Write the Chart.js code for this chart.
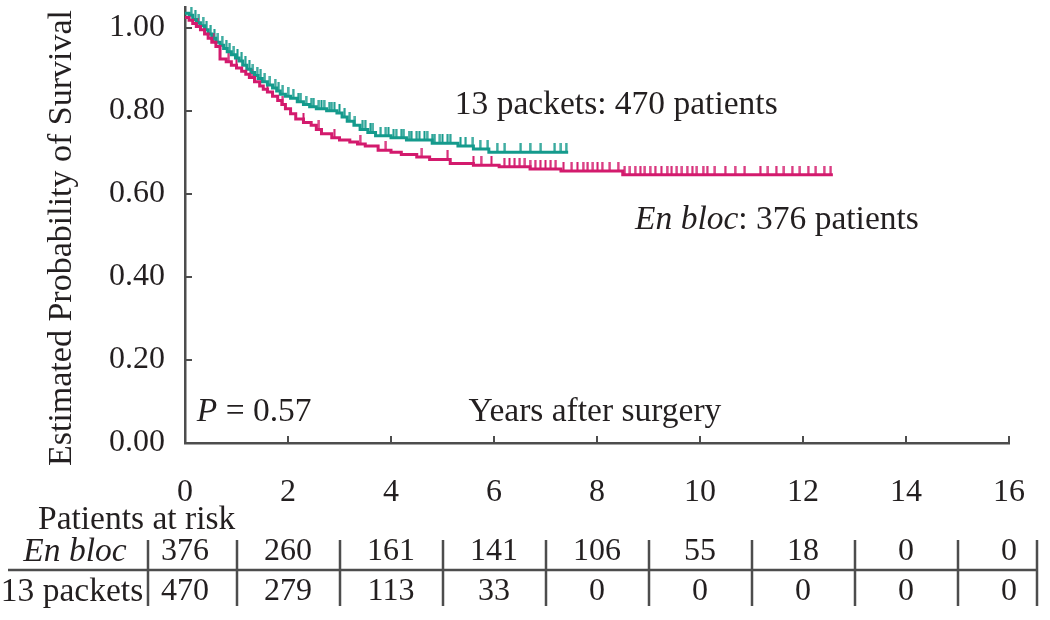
<!DOCTYPE html>
<html>
<head>
<meta charset="utf-8">
<script src="https://cdn.jsdelivr.net/npm/chart.js@4.4.1/dist/chart.umd.min.js"></script>
<style>
  html, body { margin: 0; padding: 0; background: #fff; }
</style>
</head>
<body>
<canvas id="km" width="1050" height="620"></canvas>
<script>
// Kaplan-Meier steps (years, survival estimate)
const packetsTimes = [0, 0.08, 0.15, 0.22, 0.3, 0.38, 0.45, 0.52, 0.6, 0.68, 0.75, 0.82, 0.9, 0.98, 1.05, 1.12, 1.2, 1.28, 1.35, 1.42, 1.5, 1.6, 1.7, 1.78, 1.85, 1.95, 2.05, 2.18, 2.3, 2.42, 2.55, 2.75, 2.95, 3.05, 3.15, 3.28, 3.4, 3.55, 3.7, 4.0, 4.3, 4.8, 5.3, 5.6, 5.9, 7.44];
const packetsSurv  = [1.035, 1.03, 1.02, 1.012, 1.005, 0.995, 0.985, 0.975, 0.965, 0.958, 0.95, 0.942, 0.935, 0.927, 0.92, 0.91, 0.9, 0.892, 0.885, 0.878, 0.87, 0.862, 0.855, 0.848, 0.84, 0.835, 0.83, 0.822, 0.815, 0.81, 0.805, 0.8, 0.795, 0.785, 0.775, 0.765, 0.755, 0.748, 0.74, 0.735, 0.73, 0.722, 0.715, 0.708, 0.70, 0.70];

const enBlocTimes = [0, 0.08, 0.15, 0.22, 0.3, 0.38, 0.45, 0.52, 0.6, 0.68, 0.8, 0.9, 1.0, 1.1, 1.18, 1.25, 1.35, 1.45, 1.52, 1.6, 1.7, 1.8, 1.88, 1.95, 2.05, 2.15, 2.3, 2.45, 2.55, 2.65, 2.85, 3.0, 3.2, 3.35, 3.5, 3.75, 4.0, 4.2, 4.5, 4.75, 5.15, 5.6, 6.1, 6.7, 7.3, 8.5, 12.58];
const enBlocSurv  = [1.025, 1.018, 1.01, 1.003, 0.995, 0.985, 0.975, 0.965, 0.955, 0.925, 0.918, 0.91, 0.903, 0.895, 0.888, 0.88, 0.87, 0.86, 0.852, 0.845, 0.835, 0.825, 0.815, 0.805, 0.793, 0.78, 0.772, 0.765, 0.755, 0.745, 0.735, 0.73, 0.725, 0.72, 0.715, 0.705, 0.7, 0.695, 0.689, 0.683, 0.673, 0.669, 0.665, 0.66, 0.655, 0.646, 0.646];

// censored observations (years)
const packetsCensor = [0.12, 0.2, 0.27, 0.35, 0.42, 0.5, 0.57, 0.64, 0.72, 0.8, 0.87, 0.95, 1.02, 1.1, 1.17, 1.25, 1.32, 1.4, 1.47, 1.55, 1.65, 1.75, 1.82, 1.9, 2.0, 2.1, 2.2, 2.25, 2.35, 2.45, 2.5, 2.6, 2.65, 2.7, 2.8, 2.85, 2.9, 3.0, 3.1, 3.2, 3.3, 3.45, 3.5, 3.6, 3.65, 3.8, 3.9, 3.95, 4.05, 4.1, 4.2, 4.25, 4.35, 4.4, 4.5, 4.55, 4.65, 4.7, 4.8, 4.85, 4.95, 5.0, 5.1, 5.15, 5.35, 5.45, 5.59, 5.73, 5.88, 6.06, 6.21, 6.52, 6.7, 6.91, 7.18, 7.3, 7.4];
const enBlocCensor = [0.25, 0.55, 0.85, 1.0, 1.3, 1.6, 1.9, 2.3, 2.6, 2.9, 3.4, 3.9, 4.6, 5.1, 5.6, 5.75, 5.95, 6.2, 6.3, 6.4, 6.5, 6.6, 6.7, 6.8, 6.9, 7.0, 7.1, 7.2, 7.35, 7.51, 7.62, 7.73, 7.82, 7.92, 8.01, 8.1, 8.25, 8.41, 8.54, 8.64, 8.74, 8.84, 8.93, 9.03, 9.13, 9.25, 9.36, 9.45, 9.55, 9.65, 9.75, 9.85, 9.94, 10.06, 10.14, 10.29, 10.49, 10.68, 10.87, 11.17, 11.32, 11.48, 11.63, 11.79, 11.94, 12.1, 12.25, 12.41, 12.54];

const xTicks = [0, 2, 4, 6, 8, 10, 12, 14, 16];
const yTicks = [0, 0.2, 0.4, 0.6, 0.8, 1.0];

// patients at risk table
const riskYears = [0, 2, 4, 6, 8, 10, 12, 14, 16];
const riskEnBloc = [376, 260, 161, 141, 106, 55, 18, 0, 0];
const riskPackets = [470, 279, 113, 33, 0, 0, 0, 0, 0];
const riskDividers = [-0.72, 1, 3, 5, 7, 9, 11, 13, 15, 16.55];

const TEAL = '#149a8c';
const MAGENTA = '#d31a6d';
const INK = '#231f20';
const AXIS = '#4d4d4d';
const SERIF = '"Liberation Serif", "DejaVu Serif", serif';
const WORDS = '33.5px ' + SERIF;

function survAt(times, surv, t) {
  let v = surv[0];
  for (let i = 0; i < times.length; i++) {
    if (times[i] <= t) v = surv[i];
  }
  return v;
}

function tickImage(color) {
  const c = document.createElement('canvas');
  c.width = 3;
  c.height = 18;
  const g = c.getContext('2d');
  g.fillStyle = color;
  g.fillRect(0.5, 0, 2, 9);
  return c;
}

const packetsLine = packetsTimes.map((t, i) => ({ x: t, y: packetsSurv[i] }));
const enBlocLine = enBlocTimes.map((t, i) => ({ x: t, y: enBlocSurv[i] }));
const packetsMarks = packetsCensor.map(t => ({ x: t, y: survAt(packetsTimes, packetsSurv, t) }));
const enBlocMarks = enBlocCensor.map(t => ({ x: t, y: survAt(enBlocTimes, enBlocSurv, t) }));

function mixedText(ctx, parts, x, y) {
  let cx = x;
  parts.forEach(p => {
    ctx.font = (p.italic ? 'italic ' : '') + WORDS;
    ctx.fillText(p.text, cx, y);
    cx += ctx.measureText(p.text).width;
  });
}

const decorations = {
  id: 'decorations',
  afterDraw(chart) {
    const ctx = chart.ctx;
    const xs = chart.scales.x;
    const ys = chart.scales.y;
    const area = chart.chartArea;
    ctx.save();

    // inward tick marks
    ctx.strokeStyle = AXIS;
    ctx.lineWidth = 2;
    ctx.beginPath();
    xTicks.forEach(t => {
      const px = Math.round(xs.getPixelForValue(t));
      ctx.moveTo(px, area.bottom);
      ctx.lineTo(px, area.bottom - 7);
    });
    yTicks.forEach(v => {
      const py = Math.round(ys.getPixelForValue(v));
      ctx.moveTo(area.left, py);
      ctx.lineTo(area.left + 7, py);
    });
    ctx.stroke();

    ctx.fillStyle = INK;
    ctx.textBaseline = 'middle';
    ctx.textAlign = 'left';

    // annotations in the plot
    mixedText(ctx, [{ text: '13 packets: 470 patients' }], xs.getPixelForValue(5.24), ys.getPixelForValue(0.814));
    mixedText(ctx, [{ text: 'En bloc', italic: true }, { text: ': 376 patients' }], xs.getPixelForValue(8.74), ys.getPixelForValue(0.537));
    mixedText(ctx, [{ text: 'P', italic: true }, { text: ' = 0.57' }], xs.getPixelForValue(0.23), ys.getPixelForValue(0.075));
    ctx.textAlign = 'center';
    ctx.font = WORDS;
    ctx.fillText('Years after surgery', xs.getPixelForValue(7.96), ys.getPixelForValue(0.075));

    // y axis title
    ctx.save();
    ctx.translate(62, 238);
    ctx.rotate(-Math.PI / 2);
    ctx.font = '34px ' + SERIF;
    ctx.fillText('Estimated Probability of Survival', 0, 0);
    ctx.restore();

    // patients at risk table
    ctx.font = WORDS;
    ctx.textAlign = 'left';
    ctx.fillText('Patients at risk', 38, 520);
    ctx.textAlign = 'center';
    ctx.font = 'italic ' + WORDS;
    ctx.fillText('En bloc', 75, 552);
    ctx.font = WORDS;
    ctx.fillText('13 packets', 72, 592);
    ctx.font = '32px ' + SERIF;
    riskYears.forEach((t, i) => {
      const px = xs.getPixelForValue(t);
      ctx.fillText(String(riskEnBloc[i]), px, 552);
      ctx.fillText(String(riskPackets[i]), px, 592);
    });
    ctx.strokeStyle = AXIS;
    ctx.lineWidth = 2.5;
    ctx.beginPath();
    ctx.moveTo(8, 570);
    ctx.lineTo(xs.getPixelForValue(16.55), 570);
    riskDividers.forEach(t => {
      const px = Math.round(xs.getPixelForValue(t));
      ctx.moveTo(px, 540);
      ctx.lineTo(px, 606);
    });
    ctx.stroke();

    ctx.restore();
  }
};

const chart = new Chart(document.getElementById('km').getContext('2d'), {
  type: 'line',
  data: {
    datasets: [
      {
        label: 'En bloc',
        data: enBlocLine,
        borderColor: MAGENTA,
        borderWidth: 3,
        stepped: true,
        pointRadius: 0,
        fill: false
      },
      {
        label: '13 packets',
        data: packetsLine,
        borderColor: TEAL,
        borderWidth: 3,
        stepped: true,
        pointRadius: 0,
        fill: false
      },
      {
        type: 'scatter',
        label: 'En bloc censored',
        data: enBlocMarks,
        pointStyle: tickImage(MAGENTA),
        showLine: false
      },
      {
        type: 'scatter',
        label: '13 packets censored',
        data: packetsMarks,
        pointStyle: tickImage(TEAL),
        showLine: false
      }
    ]
  },
  options: {
    responsive: false,
    animation: false,
    layout: { padding: { top: 7, right: 41, left: 0, bottom: 0 } },
    plugins: {
      legend: { display: false },
      tooltip: { enabled: false }
    },
    scales: {
      x: {
        type: 'linear',
        min: 0,
        max: 16,
        afterFit: (scale) => {
          scale.height = 177;
          scale.paddingLeft = 0;
          scale.paddingRight = 0;
        },
        afterBuildTicks: (scale) => { scale.ticks = xTicks.map(v => ({ value: v })); },
        grid: { display: true, drawOnChartArea: false, drawTicks: false },
        border: { color: AXIS, width: 2.5 },
        ticks: {
          padding: 30,
          color: INK,
          font: { family: SERIF, size: 32 },
          maxRotation: 0
        }
      },
      y: {
        type: 'linear',
        min: 0,
        max: 1.05,
        afterFit: (scale) => {
          scale.width = 185;
          scale.paddingTop = 0;
          scale.paddingBottom = 0;
        },
        afterBuildTicks: (scale) => { scale.ticks = yTicks.map(v => ({ value: v })); },
        grid: { display: true, drawOnChartArea: false, drawTicks: false },
        border: { color: AXIS, width: 2.5 },
        ticks: {
          padding: 20,
          color: INK,
          font: { family: SERIF, size: 32 },
          callback: (v) => Number(v).toFixed(2)
        }
      }
    }
  },
  plugins: [decorations]
});
</script>
</body>
</html>
